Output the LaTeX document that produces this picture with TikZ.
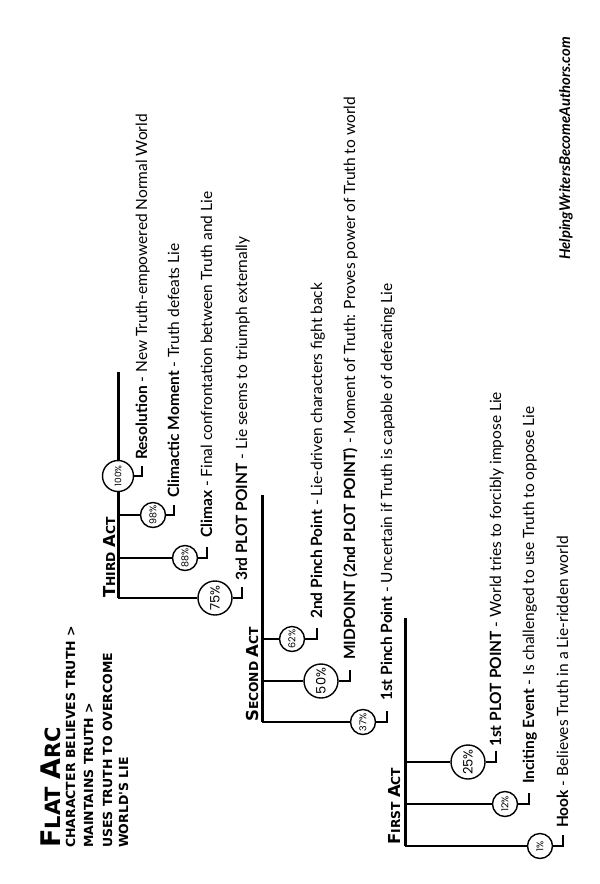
\documentclass[tikz,border=0pt]{standalone}
\usepackage{fontspec}
\setmainfont{Lato}
\newfontfamily\headfont{DejaVu Sans}
\newfontfamily\pctfont{Poppins}
\newcommand\fsz[1]{\fontsize{#1}{#1}\selectfont}
\newcommand\capsx[4]{{\fsz{#1}#3}{\fsz{#2}#4}}
\begin{document}
\begin{tikzpicture}[x=1pt,y=-1pt,
  actline/.style={line width=3pt},
  branch/.style={line width=1.4pt},
  pctsmall/.style={circle,draw,line width=1.4pt,fill=white,inner sep=0pt,minimum size=25pt,rotate=90,font=\pctfont\fsz{9.5}},
  pctbig/.style={circle,draw,line width=1.4pt,fill=white,inner sep=0pt,minimum size=34pt,rotate=90,font=\pctfont\fsz{13}},
  lbl/.style={rotate=90,anchor=base west,inner sep=0pt,font=\fsz{15.5}},
  head/.style={rotate=90,anchor=base west,inner sep=0pt,font=\headfont\bfseries},
  sub/.style={head,font=\headfont\bfseries\fsz{12.5}},
]
\fill[white] (0,0) rectangle (600,884);
\useasboundingbox (0,0) rectangle (600,884);

% title block
\node[head] (title) at (60,848) {\capsx{27}{21}{F}{LAT\ }\capsx{27}{21}{A}{RC}};
\node[sub] (s1) at (75,848) {CHARACTER BELIEVES TRUTH >};
\node[sub] (s2) at (93,848) {MAINTAINS TRUTH >};
\node[sub] (s3) at (112,848) {USES TRUTH TO OVERCOME};
\node[sub] (s4) at (128,848) {WORLD'S LIE};

% act headers
\node[head] (h3) at (115,598) {\capsx{16.5}{12.3}{T}{HIRD\ }\capsx{16.5}{12.3}{A}{CT}};
\node[head] (h2) at (258,722) {\capsx{16.5}{12.3}{S}{ECOND\ }\capsx{16.5}{12.3}{A}{CT}};
\node[head] (h1) at (400,845) {\capsx{16.5}{12.3}{F}{IRST\ }\capsx{16.5}{12.3}{A}{CT}};

% act lines
\coordinate (t3) at (118,372); \coordinate (b3) at (118,598);
\coordinate (t2) at (262,495); \coordinate (b2) at (262,722);
\coordinate (t1) at (405,618); \coordinate (b1) at (405,846);
\coordinate (j98) at (118,515); \coordinate (j88) at (118,558);
\coordinate (j62) at (262,639); \coordinate (j50) at (262,681);
\coordinate (j25) at (405,762); \coordinate (j12) at (405,804);

% circles
\node[pctsmall,minimum size=31pt,font=\pctfont\fsz{9}] (c100) at (118,476) {100\%};
\node[pctsmall] (c98) at (153,515) {98\%};
\node[pctsmall] (c88) at (185,558) {88\%};
\node[pctbig] (c75) at (215,598) {75\%};
\node[pctsmall] (c62) at (292,639) {62\%};
\node[pctbig] (c50) at (321,681) {50\%};
\node[pctsmall] (c37) at (363,722) {37\%};
\node[pctbig] (c25) at (468,762) {25\%};
\node[pctsmall] (c12) at (505,804) {12\%};
\node[pctsmall] (c1) at (540,846) {1\%};

\draw[branch] (j98) -- (c98);
\draw[branch] (j88) -- (c88);
\draw[branch] (b3) -- (c75);
\draw[branch] (j62) -- (c62);
\draw[branch] (j50) -- (c50);
\draw[branch] (b2) -- (c37);
\draw[branch] (j25) -- (c25);
\draw[branch] (j12) -- (c12);
\draw[branch] (b1) -- (c1);

\draw[actline] (t3) -- (c100) -- (b3);
\draw[actline] (t2) -- (b2);
\draw[actline] (t1) -- (b1);

% connectors and labels
\coordinate (k100) at (142,476); \coordinate (e100) at (142,466);
\coordinate (k98) at (174,515);  \coordinate (e98) at (174,505);
\coordinate (k88) at (207,558);  \coordinate (e88) at (207,547);
\coordinate (k75) at (242,598);  \coordinate (e75) at (242,587);
\coordinate (k62) at (317,639);  \coordinate (e62) at (317,628);
\coordinate (k50) at (350,681);  \coordinate (e50) at (350,670);
\coordinate (k37) at (387,722);  \coordinate (e37) at (387,711);
\coordinate (k25) at (496,762);  \coordinate (e25) at (496,751);
\coordinate (k12) at (529,804);  \coordinate (e12) at (529,793);
\coordinate (k1) at (563,846);   \coordinate (e1) at (563,835);

\foreach \n in {100,98,88,75,62,50,37,25,12,1}{
  \draw[branch] (c\n.south) -- (k\n) -- (e\n);
}

\node[lbl] (l100) at (147,460) {\textbf{Resolution} - New Truth-empowered Normal World};
\node[lbl] (l98) at (179,498) {\textbf{Climactic Moment} - Truth defeats Lie};
\node[lbl] (l88) at (212,538) {\textbf{Climax} - Final confrontation between Truth and Lie};
\node[lbl] (l75) at (247,581) {\textbf{3rd PLOT POINT} - Lie seems to triumph externally};
\node[lbl] (l62) at (322,619) {\textbf{2nd Pinch Point} - Lie-driven characters fight back};
\node[lbl] (l50) at (355,660) {\textbf{MIDPOINT (2nd PLOT POINT)} - Moment of Truth: Proves power of Truth to world};
\node[lbl] (l37) at (392,701) {\textbf{1st Pinch Point} - Uncertain if Truth is capable of defeating Lie};
\node[lbl] (l25) at (501,747) {\textbf{1st PLOT POINT} - World tries to forcibly impose Lie};
\node[lbl] (l12) at (534,784) {\textbf{Inciting Event} - Is challenged to use Truth to oppose Lie};
\node[lbl] (l1) at (568,828) {\textbf{Hook} - Believes Truth in a Lie-ridden world};

% website
\node[lbl,font=\bfseries\itshape\fsz{14.8}] (web) at (570,260) {HelpingWritersBecomeAuthors.com};
\end{tikzpicture}
\end{document}
